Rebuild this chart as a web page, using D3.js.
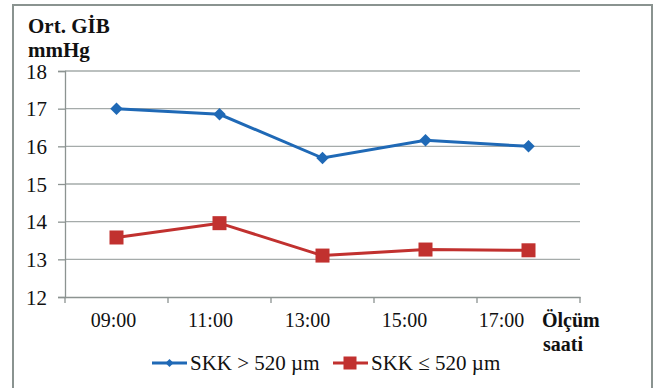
<!DOCTYPE html>
<html><head><meta charset="utf-8">
<script src="https://cdn.jsdelivr.net/npm/d3@7"></script>
<style>body{margin:0;background:#fff;} svg{display:block;} text{font-family:"Liberation Serif";}</style>
</head><body>
<script>
const categories = ["09:00","11:00","13:00","15:00","17:00"];
const seriesNames = ["SKK > 520 µm","SKK ≤ 520 µm"];
const seriesHigh = [17.0, 16.85, 15.69, 16.16, 16.0];
const seriesLow = [13.58, 13.96, 13.1, 13.26, 13.24];
const yTicks = [12,13,14,15,16,17,18];

const W=657,H=388;
const svg=d3.select("body").append("svg").attr("width",W).attr("height",H);
const font="Liberation Serif";

svg.append("rect").attr("x",13).attr("y",5).attr("width",639).attr("height",400)
  .attr("fill","#fff").attr("stroke","#8a9390").attr("stroke-width",2);

const x=d3.scaleBand().domain(categories).range([65,580]);
const xLab=d3.scaleBand().domain(categories).range([65,550]);
const y=d3.scaleLinear().domain([12,18]).range([297,71]);

svg.append("g").selectAll("line").data(yTicks.slice(1)).join("line")
  .attr("x1",65).attr("x2",580).attr("y1",d=>y(d)).attr("y2",d=>y(d))
  .attr("stroke","#a5abaa").attr("stroke-width",1.3);

const yAxis=svg.append("g").attr("transform","translate(65,0)")
  .call(d3.axisLeft(y).tickValues(yTicks).tickSize(7).tickPadding(11).tickFormat(d3.format("d")));
yAxis.attr("font-family",null);
yAxis.select(".domain").attr("stroke","#8c9391").attr("stroke-width",1.3);
yAxis.selectAll(".tick line").attr("stroke","#8c9391").attr("stroke-width",1.3);
yAxis.selectAll("text").style("font-family",font).attr("font-size",21).attr("fill","#111").attr("dy","0.34em");

const xAxis=svg.append("g").attr("transform","translate(0,297)")
  .call(d3.axisBottom(x).tickSize(0).tickFormat(""));
xAxis.select(".domain").attr("stroke","#8c9391").attr("stroke-width",1.3);
svg.append("g").selectAll("line").data(categories.concat(["end"])).join("line")
  .attr("x1",(d,i)=>x.range()[0]+i*x.step()).attr("x2",(d,i)=>x.range()[0]+i*x.step())
  .attr("y1",297).attr("y2",303).attr("stroke","#8c9391").attr("stroke-width",1.3);
const xLabels=svg.append("g").attr("transform","translate(0,297)")
  .call(d3.axisBottom(xLab).tickSize(0).tickPadding(16));
xLabels.attr("font-family",null);
xLabels.select(".domain").remove();
xLabels.selectAll("text").style("font-family",font).attr("font-size",20).attr("fill","#111");

const cx=(i)=>x(categories[i])+x.bandwidth()/2;
const line=d3.line().x((d,i)=>cx(i)).y(d=>y(d));
const blue="#1f69b6", red="#c1312f";
svg.append("path").datum(seriesHigh).attr("d",line).attr("fill","none").attr("stroke",blue).attr("stroke-width",3);
svg.append("path").datum(seriesLow).attr("d",line).attr("fill","none").attr("stroke",red).attr("stroke-width",3);

const diamond=d3.symbol().type(d3.symbolDiamond2).size(100);
svg.append("g").selectAll("path").data(seriesHigh).join("path")
  .attr("d",diamond).attr("fill",blue)
  .attr("transform",(d,i)=>`translate(${cx(i)},${y(d)})`);
svg.append("g").selectAll("rect").data(seriesLow).join("rect")
  .attr("x",(d,i)=>cx(i)-7).attr("y",d=>y(d)-7)
  .attr("width",14).attr("height",14).attr("fill",red);

function txt(xp,yp,s,bold,size){
  svg.append("text").attr("x",xp).attr("y",yp).style("font-family",font)
    .attr("font-weight",bold?"bold":"normal").attr("font-size",size).attr("fill","#111").text(s);
}
txt(28,33,"Ort. GİB",true,21);
txt(28,57,"mmHg",true,21);
txt(542,327,"Ölçüm",true,20);
txt(543,351,"saati",true,20);

const leg=[{c:blue,x:152,name:seriesNames[0],t:"d"},{c:red,x:333,name:seriesNames[1],t:"s"}];
leg.forEach(l=>{
  const g=svg.append("g");
  g.append("line").attr("x1",l.x).attr("x2",l.x+35).attr("y1",363).attr("y2",363).attr("stroke",l.c).attr("stroke-width",3);
  if(l.t==="d") g.append("path").attr("d",d3.symbol().type(d3.symbolDiamond2).size(40)).attr("fill",l.c).attr("transform",`translate(${l.x+17.5},363)`);
  else g.append("rect").attr("x",l.x+10.5).attr("y",356.5).attr("width",13).attr("height",13).attr("fill",l.c);
  g.append("text").attr("x",l.x+38).attr("y",370).style("font-family",font).attr("font-size",21).attr("fill","#111").text(l.name);
});
</script>
</body></html>
